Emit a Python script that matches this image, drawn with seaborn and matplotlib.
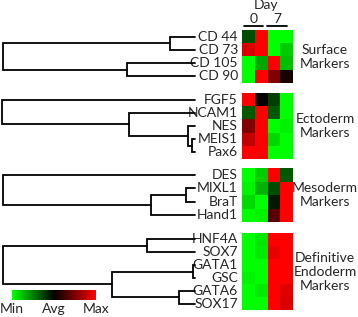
import numpy as np
import pandas as pd
import seaborn as sns
import matplotlib
matplotlib.use("Agg")
import matplotlib.pyplot as plt
from matplotlib.colors import LinearSegmentedColormap, Normalize
from matplotlib.colorbar import ColorbarBase

sns.set_style("white")
plt.rcParams['font.family'] = ['Lato', 'DejaVu Sans']

# ---------------- data ----------------
day_labels = ["0", "7"]
sample_cols = ["D0a", "D0b", "D7a", "D7b"]

surface_genes = ["CD 44", "CD 73", "CD 105", "CD 90"]
surface_vals = [[-0.30, 1.00, -1.00, -1.00],
                [0.85, 1.00, -1.00, -0.80],
                [-1.00, -0.65, 1.00, -0.75],
                [-1.00, 1.00, 0.50, 0.10]]
surface_links = [(0, 1, 25), (2, 3, 68), (4, 5, 192)]

ecto_genes = ["FGF5", "NCAM1", "NES", "MEIS1", "Pax6"]
ecto_vals = [[1.00, 0.03, -0.25, -1.00],
             [-0.35, 1.00, -0.35, -1.00],
             [0.50, 1.00, -1.00, -0.95],
             [0.75, 1.00, -0.85, -1.00],
             [1.00, 1.00, -1.00, -1.00]]
ecto_links = [(3, 4, 3), (2, 5, 7), (1, 6, 66), (0, 7, 193)]

meso_genes = ["DES", "MIXL1", "BraT", "Hand1"]
meso_vals = [[-1.00, -0.80, 1.00, -0.35],
             [-0.95, -0.70, -0.30, 1.00],
             [-0.85, -1.00, -0.10, 1.00],
             [-1.00, -0.95, 0.35, 1.00]]
meso_links = [(1, 2, 9), (4, 3, 44), (0, 5, 192)]

endo_genes = ["HNF4A", "SOX7", "GATA1", "GSC", "GATA6", "SOX17"]
endo_vals = [[-1.00, -0.90, 1.00, 1.00],
             [-1.00, -0.92, 0.92, 1.00],
             [-1.00, -1.00, 1.00, 1.00],
             [-0.95, -1.00, 1.00, 1.00],
             [-1.00, -0.92, 1.00, 0.88],
             [-1.00, -1.00, 1.00, 0.85]]
endo_links = [(0, 1, 48), (2, 3, 2), (4, 5, 16), (7, 8, 83), (6, 9, 192)]

group_titles = ["Surface\nMarkers", "Ectoderm\nMarkers", "Mesoderm\nMarkers",
                "Definitive\nEndoderm\nMarkers"]
cbar_labels = ["Min", "Avg", "Max"]

# ---------------- layout ----------------
W, H = 358, 317
fig = plt.figure(figsize=(W / 100, H / 100), dpi=100)


def px_axes(x0, y0, x1, y1):
    return fig.add_axes([x0 / W, 1 - y1 / H, (x1 - x0) / W, (y1 - y0) / H])


def fig_xy(x, y):
    return x / W, 1 - y / H


cmap = LinearSegmentedColormap.from_list("gkr", [(0, 1, 0), (0, 0, 0), (1, 0, 0)])
FS = 10

groups = [
    (surface_genes, surface_vals, surface_links, (30, 83)),
    (ecto_genes, ecto_vals, ecto_links, (93, 159)),
    (meso_genes, meso_vals, meso_links, (168, 222)),
    (endo_genes, endo_vals, endo_links, (233, 310)),
]

HX0, HX1 = 242, 293
LEAF_X = 195
ROOT_SPAN = 193

hm_axes = []
for (genes, vals, links, (y0, y1)), title in zip(groups, group_titles):
    df = pd.DataFrame(vals, index=genes, columns=sample_cols)
    ax = px_axes(HX0, y0, HX1, y1)
    sns.heatmap(df, ax=ax, cmap=cmap, vmin=-1, vmax=1, cbar=False,
                xticklabels=False, yticklabels=True)
    ax.tick_params(axis='y', length=0, pad=3, labelsize=FS, rotation=0)
    ax.set_ylabel("")
    hm_axes.append(ax)

    # dendrogram
    dax = px_axes(LEAF_X - ROOT_SPAN, y0, LEAF_X, y1)
    n = len(genes)
    pos = {i: (i + 0.5, 0.0) for i in range(n)}
    for k, (a, b, h) in enumerate(links):
        ya, ha = pos[a]
        yb, hb = pos[b]
        dax.plot([ha, h, h, hb], [ya, ya, yb, yb], color='black', lw=1.3,
                 solid_joinstyle='miter', clip_on=False)
        pos[n + k] = ((ya + yb) / 2, h)
    dax.set_xlim(ROOT_SPAN, 0)
    dax.set_ylim(n, 0)
    dax.axis('off')

    # group title
    tx, ty = fig_xy(325, (y0 + y1) / 2)
    fig.text(tx, ty, title, ha='center', va='center', fontsize=FS,
             linespacing=1.2)

# Day header
top = hm_axes[0]
top.plot([0.16, 1.65], [-0.3, -0.3], color='black', lw=1.3, clip_on=False)
top.plot([1.96, 3.53], [-0.3, -0.3], color='black', lw=1.3, clip_on=False)
top.text(0.9, -0.85, day_labels[0], ha='center', va='center', fontsize=FS)
top.text(2.75, -0.85, day_labels[1], ha='center', va='center', fontsize=FS)
top.text(1.9, -1.85, "Day", ha='center', va='center', fontsize=FS)

# colour bar
cax = px_axes(12, 290, 96, 300)
cb = ColorbarBase(cax, cmap=cmap, norm=Normalize(-1, 1), orientation='horizontal',
                  ticks=[-1, 0, 1])
cb.set_ticklabels(cbar_labels)
cb.outline.set_visible(False)
cax.tick_params(axis='x', length=0, pad=2, labelsize=FS)

fig.savefig("out.png", dpi=100)
